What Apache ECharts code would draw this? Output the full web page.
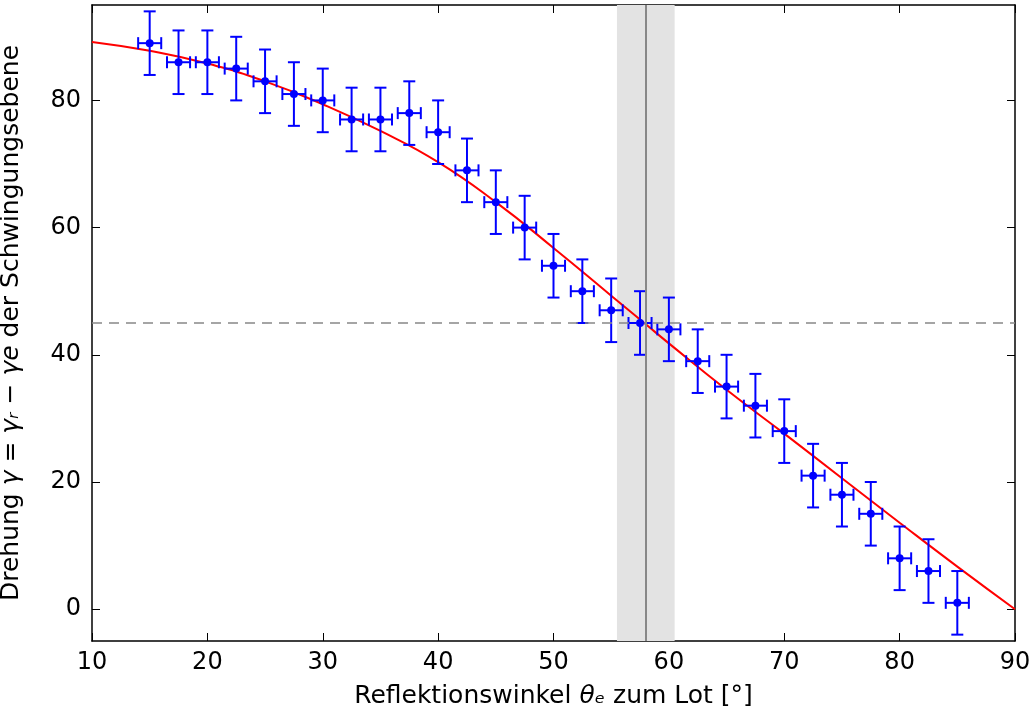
<!DOCTYPE html>
<html>
<head>
<meta charset="utf-8">
<script src="https://cdn.jsdelivr.net/npm/echarts@6/dist/echarts.min.js"></script>
<style>
  html, body { margin: 0; padding: 0; background: #fff; }
  #chart { width: 1032px; height: 713px; }
</style>
</head>
<body>
<div id="chart"></div>
<script>
// Messwerte
var winkel = [15, 17.5, 20, 22.5, 25, 27.5, 30, 32.5, 35, 37.5, 40, 42.5, 45, 47.5, 50,
              52.5, 55, 57.5, 60, 62.5, 65, 67.5, 70, 72.5, 75, 77.5, 80, 82.5, 85];
var drehung = [89, 86, 86, 85, 83, 81, 80, 77, 77, 78, 75, 69, 64, 60, 54,
               50, 47, 45, 44, 39, 35, 32, 28, 21, 18, 15, 8, 6, 1];
var fehlerX = [1, 1, 1, 1, 1, 1, 1, 1, 1, 1, 1, 1, 1, 1, 1,
               1, 1, 1, 1, 1, 1, 1, 1, 1, 1, 1, 1, 1, 1];
var fehlerY = [5, 5, 5, 5, 5, 5, 5, 5, 5, 5, 5, 5, 5, 5, 5,
               5, 5, 5, 5, 5, 5, 5, 5, 5, 5, 5, 5, 5, 5];

// Fitkurve
var fitX = [10, 15, 20, 25, 30, 35, 40, 45, 50, 55, 58, 60, 65, 70, 75, 80, 85, 90];
var fitY = [89.2, 87.8, 85.8, 83.0, 79.4, 75.2, 70.3, 64.0, 56.8, 49.3, 44.8, 41.8, 34.5, 27.6, 20.6, 13.6, 6.7, 0];

// Brewsterwinkel und Unsicherheit
var brewster = 58;
var brewsterBand = [55.5, 60.5];
var halbeDrehung = 45;

var xTicks = [10, 20, 30, 40, 50, 60, 70, 80, 90];
var yTicks = [0, 20, 40, 60, 80];

var punkte = winkel.map(function (w, i) { return [w, drehung[i], fehlerX[i], fehlerY[i]]; });
var fit = fitX.map(function (x, i) { return [x, fitY[i]]; });

var schrift = 'DejaVu Sans';
var groesse = 24;
var titel = 25;
var chart = echarts.init(document.getElementById('chart'));

function achse(ticks, extra) {
  return Object.assign({
    axisLine: { show: true, onZero: false, lineStyle: { color: '#000', width: 1.5 } },
    axisTick: { show: true, inside: true, length: 8, customValues: ticks,
      lineStyle: { color: '#000', width: 1 } },
    splitLine: { show: false }
  }, extra);
}

var rich = { m: { fontStyle: 'italic', fontSize: titel, fontFamily: schrift, color: '#000' } };

chart.setOption({
  animation: false,
  grid: { left: 92, right: 17, top: 5, bottom: 72, containLabel: false, outerBoundsMode: 'none' },
  xAxis: [
    achse(xTicks, {
      type: 'value', min: 10, max: 90, position: 'bottom',
      axisLabel: { color: '#000', fontSize: groesse, fontFamily: schrift, margin: 10, customValues: xTicks },
      name: 'Reflektionswinkel {m|θₑ} zum Lot [°]',
      nameLocation: 'middle', nameGap: 43,
      nameTextStyle: { color: '#000', fontSize: titel, fontFamily: schrift, rich: rich }
    }),
    achse(xTicks, { type: 'value', min: 10, max: 90, position: 'top', axisLabel: { show: false } })
  ],
  yAxis: [
    achse(yTicks, {
      type: 'value', min: -5, max: 95, position: 'left',
      axisLabel: { color: '#000', fontSize: groesse, fontFamily: schrift, margin: 11, customValues: yTicks },
      name: 'Drehung {m|γ = γᵣ − γe} der Schwingungsebene',
      nameLocation: 'middle', nameGap: 68,
      nameTextStyle: { color: '#000', fontSize: titel, fontFamily: schrift, rich: rich }
    }),
    achse(yTicks, { type: 'value', min: -5, max: 95, position: 'right', axisLabel: { show: false } })
  ],
  series: [
    {
      type: 'line', data: [], silent: true,
      markArea: { silent: true, itemStyle: { color: '#e3e3e3' },
        data: [[{ xAxis: brewsterBand[0] }, { xAxis: brewsterBand[1] }]] },
      markLine: { silent: true, symbol: 'none', label: { show: false },
        data: [
          { xAxis: brewster, lineStyle: { color: '#888', width: 2, type: 'solid' } },
          { yAxis: halbeDrehung, lineStyle: { color: '#888', width: 1.5, type: [10, 7] } }
        ] }
    },
    {
      type: 'line', data: fit, smooth: true, showSymbol: false, silent: true,
      lineStyle: { color: '#ff0000', width: 2 }, z: 3
    },
    {
      type: 'custom', data: punkte, z: 4,
      renderItem: function (params, api) {
        var x = api.value(0), y = api.value(1), dx = api.value(2), dy = api.value(3);
        var l = api.coord([x - dx, y]), r = api.coord([x + dx, y]);
        var t = api.coord([x, y + dy]), b = api.coord([x, y - dy]);
        var c = 6;
        var st = { stroke: '#0000ff', lineWidth: 2 };
        return {
          type: 'group',
          children: [
            { type: 'line', shape: { x1: l[0], y1: l[1], x2: r[0], y2: r[1] }, style: st },
            { type: 'line', shape: { x1: t[0], y1: t[1], x2: b[0], y2: b[1] }, style: st },
            { type: 'line', shape: { x1: l[0], y1: l[1] - c, x2: l[0], y2: l[1] + c }, style: st },
            { type: 'line', shape: { x1: r[0], y1: r[1] - c, x2: r[0], y2: r[1] + c }, style: st },
            { type: 'line', shape: { x1: t[0] - c, y1: t[1], x2: t[0] + c, y2: t[1] }, style: st },
            { type: 'line', shape: { x1: b[0] - c, y1: b[1], x2: b[0] + c, y2: b[1] }, style: st }
          ]
        };
      }
    },
    {
      type: 'scatter', data: punkte.map(function (p) { return [p[0], p[1]]; }),
      symbol: 'circle', symbolSize: 8, itemStyle: { color: '#0000ff', opacity: 1 }, z: 5
    }
  ]
});
</script>
</body>
</html>
